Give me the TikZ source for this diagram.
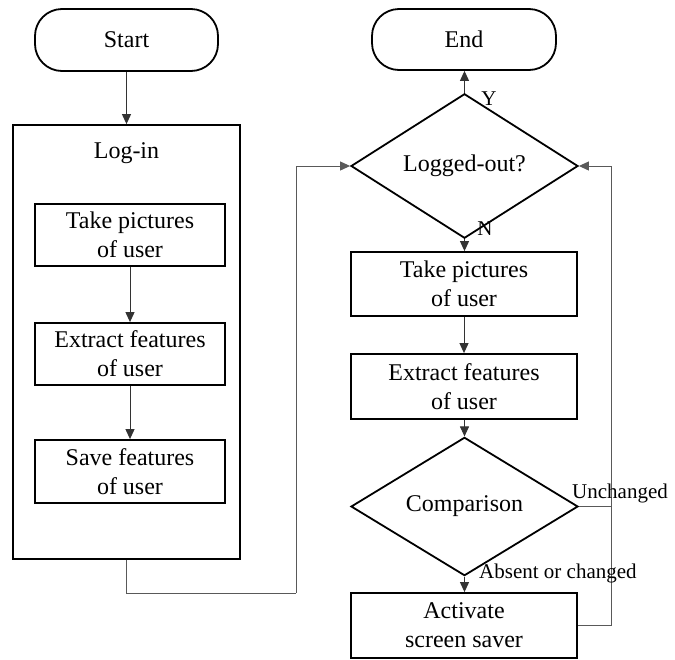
\documentclass[tikz,border=0pt]{standalone}
\usepackage{fontspec}
\setmainfont{Liberation Serif}
\usetikzlibrary{arrows.meta,shapes.geometric}
\begin{document}
\begin{tikzpicture}[x=1pt,y=-1pt,
  every node/.style={font=\fontsize{24}{29}\selectfont},
  term/.style={draw,line width=1.8pt,rounded corners=27pt,inner sep=0pt},
  procbox/.style={draw,line width=1.8pt,inner sep=0pt,align=center},
  decide/.style={draw,diamond,line width=1.8pt,inner sep=0pt,minimum width=227pt,minimum height=99pt},
  conn/.style={line width=1pt,draw=black!80,-{Triangle[length=10pt,width=9pt]}},
  line/.style={line width=1pt,draw=black!65},
  lbl/.style={inner sep=0pt,font=\fontsize{21}{25}\selectfont}]
\useasboundingbox (0,0) rectangle (675,659);
% left column
\node[term,minimum width=183pt,minimum height=62pt] (start) at (126.5,40) {Start};
\node[procbox,minimum width=227pt,minimum height=434pt] (login) at (126.5,342) {};
\node[inner sep=0pt] (logintxt) at (126.5,153) {Log-in};
\node[procbox,minimum width=190pt,minimum height=62pt] (take1) at (130,235) {Take pictures\\of user};
\node[procbox,minimum width=190pt,minimum height=62pt] (ext1) at (130,354) {Extract features\\of user};
\node[procbox,minimum width=190pt,minimum height=63pt] (save1) at (130,471.5) {Save features\\of user};
% right column
\node[term,minimum width=184pt,minimum height=61pt] (end) at (464,39.5) {End};
\node[decide] (lo) at (464.5,166) {Logged-out?};
\node[procbox,minimum width=226pt,minimum height=64pt] (take2) at (464,284) {Take pictures\\of user};
\node[procbox,minimum width=226pt,minimum height=65pt] (ext2) at (464,386.5) {Extract features\\of user};
\node[decide] (cmp) at (464.5,506.5) {Comparison};
\node[procbox,minimum width=226pt,minimum height=65pt] (act) at (464,625.5) {Activate\\screen saver};
\coordinate (c1) at (296,593);
\coordinate (rx) at (611,0);
% connectors
\draw[conn] (start) -- (login.north -| start.south);
\draw[conn] (take1) -- (ext1);
\draw[conn] (ext1) -- (save1);
\draw[line] (login.south) |- (c1);
\draw[conn,draw=black!65] (c1) |- (lo.west);
\draw[conn] (lo.north) -- (end.south -| lo.north);
\draw[conn] (lo.south) -- (take2.north -| lo.south);
\draw[conn] (take2) -- (ext2);
\draw[conn] (ext2.south -| cmp.north) -- (cmp.north);
\draw[conn] (cmp.south) -- (act.north -| cmp.south);
\draw[line] (cmp.east) -- (rx |- cmp.east);
\draw[line] (act.east) -| (rx |- lo.east);
\draw[conn,draw=black!65] (rx |- lo.east) -- (lo.east);
% labels
\node[lbl] (ly) at (489,99) {Y};
\node[lbl] (ln) at (485,229) {N};
\node[lbl,anchor=west] (lu) at (572,493) {Unchanged};
\node[lbl,anchor=west] (la) at (479,573) {Absent or changed};
\end{tikzpicture}
\end{document}
